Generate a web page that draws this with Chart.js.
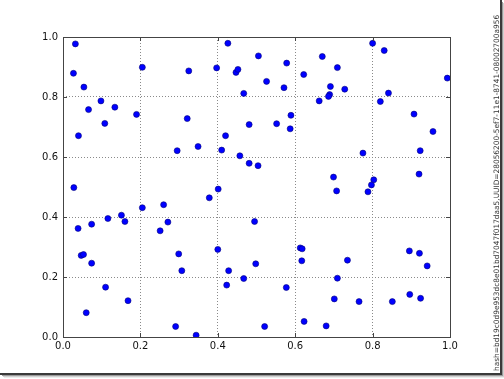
<!DOCTYPE html>
<html>
<head>
<meta charset="utf-8">
<script src="https://cdn.jsdelivr.net/npm/chart.js@4"></script>
<style>
html,body{margin:0;padding:0;background:#fff;}
canvas{display:block;}
</style>
</head>
<body>
<canvas id="c" width="504" height="379"></canvas>
<script>
// Scatter point values
const xValues = [
  0.032,0.027,0.054,0.066,0.040,0.098,0.108,0.134,0.190,0.205,
  0.325,0.321,0.349,0.295,0.397,0.426,0.447,0.452,0.467,0.420,
  0.410,0.457,0.028,0.401,0.481,0.481,0.505,0.578,0.526,0.571,
  0.552,0.589,0.587,0.504,0.670,0.709,0.622,0.691,0.728,0.689,
  0.686,0.662,0.800,0.830,0.841,0.820,0.993,0.907,0.956,0.923,
  0.775,0.920,0.699,0.803,0.797,0.707,0.788,0.039,0.074,0.116,
  0.151,0.160,0.205,0.260,0.251,0.271,0.378,0.047,0.053,0.074,
  0.110,0.168,0.060,0.299,0.307,0.400,0.428,0.423,0.467,0.291,
  0.344,0.495,0.613,0.618,0.617,0.735,0.498,0.895,0.921,0.941,
  0.709,0.577,0.701,0.765,0.851,0.896,0.924,0.623,0.680,0.521
];
const yValues = [
  0.977,0.879,0.833,0.758,0.671,0.787,0.712,0.766,0.742,0.899,
  0.887,0.728,0.635,0.621,0.897,0.979,0.882,0.892,0.812,0.671,
  0.623,0.604,0.498,0.493,0.708,0.579,0.937,0.913,0.852,0.831,
  0.711,0.739,0.694,0.571,0.935,0.898,0.875,0.835,0.826,0.808,
  0.802,0.787,0.979,0.955,0.813,0.785,0.863,0.743,0.685,0.621,
  0.613,0.543,0.533,0.524,0.507,0.487,0.484,0.362,0.376,0.395,
  0.406,0.385,0.431,0.441,0.354,0.383,0.464,0.272,0.275,0.246,
  0.166,0.121,0.081,0.277,0.221,0.292,0.221,0.173,0.195,0.035,
  0.006,0.385,0.297,0.294,0.254,0.256,0.244,0.287,0.279,0.237,
  0.196,0.165,0.127,0.118,0.118,0.142,0.129,0.052,0.037,0.035
];
const xTickLabels = ['0.0','0.2','0.4','0.6','0.8','1.0'];
const yTickLabels = ['0.0','0.2','0.4','0.6','0.8','1.0'];
const sideNote = 'hash=bd19c0d9e953dc8e01bd7047f017daa5,UUID=28056200-5ef7-11e1-8741-08002700a956';

const points = xValues.map((x, i) => ({x: x, y: yValues[i]}));

const framePlugin = {
  id: 'frame',
  afterDraw(chart) {
    const ctx = chart.ctx;
    const a = chart.chartArea;
    ctx.save();
    ctx.setLineDash([]);
    ctx.strokeStyle = '#444';
    ctx.lineWidth = 1;
    // inward ticks on all four sides
    const xs = chart.scales.x, ys = chart.scales.y;
    ctx.beginPath();
    xs.ticks.forEach((t, i) => {
      const px = Math.round(xs.getPixelForTick(i)) + 0.5;
      ctx.moveTo(px, a.bottom); ctx.lineTo(px, a.bottom - 4);
      ctx.moveTo(px, a.top); ctx.lineTo(px, a.top + 4);
    });
    ys.ticks.forEach((t, i) => {
      const py = Math.round(ys.getPixelForTick(i)) + 0.5;
      ctx.moveTo(a.left, py); ctx.lineTo(a.left + 4, py);
      ctx.moveTo(a.right, py); ctx.lineTo(a.right - 4, py);
    });
    ctx.stroke();
    ctx.strokeRect(Math.round(a.left) + 0.5, Math.round(a.top) + 0.5,
                   Math.round(a.right - a.left), Math.round(a.bottom - a.top));
    // side note text
    ctx.fillStyle = '#333';
    ctx.font = '7.4px "DejaVu Sans"';
    ctx.textAlign = 'left';
    ctx.textBaseline = 'alphabetic';
    ctx.translate(498.5, 371);
    ctx.rotate(-Math.PI / 2);
    ctx.fillText(sideNote, 0, 0);
    ctx.restore();
    // outer picture border with shadow
    ctx.save();
    ctx.fillStyle = '#3a3a3a';
    ctx.fillRect(500, 0, 2, 375);
    ctx.fillRect(0, 373, 502, 2);
    ctx.fillStyle = '#9a9a9a';
    ctx.fillRect(502, 2, 1, 374);
    ctx.fillRect(2, 375, 501, 1);
    ctx.fillStyle = '#d0d0d0';
    ctx.fillRect(503, 3, 1, 374);
    ctx.fillRect(3, 376, 501, 1);
    ctx.fillStyle = '#ececec';
    ctx.fillRect(4, 377, 500, 1);
    ctx.restore();
  }
};

new Chart(document.getElementById('c'), {
  type: 'scatter',
  data: {
    datasets: [{
      data: points,
      backgroundColor: '#0000ff',
      borderColor: '#00007a',
      borderWidth: 0.6,
      pointRadius: 3,
      pointHoverRadius: 3
    }]
  },
  options: {
    responsive: false,
    devicePixelRatio: 1,
    animation: false,
    events: [],
    layout: { padding: { left: 0, right: 54, top: 37, bottom: 0 } },
    plugins: { legend: { display: false }, tooltip: { enabled: false } },
    scales: {
      x: {
        type: 'linear', min: 0, max: 1,
        afterFit: s => { s.height = 42; },
        ticks: {
          stepSize: 0.2,
          callback: (v, i) => xTickLabels[i],
          font: { family: 'DejaVu Sans', size: 10 },
          color: '#111',
          padding: 3,
          maxRotation: 0,
          autoSkip: false
        },
        grid: { color: '#8a8a8a', lineWidth: 1, drawTicks: false },
        border: { display: false, dash: [1, 2] }
      },
      y: {
        type: 'linear', min: 0, max: 1,
        afterFit: s => { s.width = 63; },
        ticks: {
          stepSize: 0.2,
          callback: (v, i) => yTickLabels[i],
          font: { family: 'DejaVu Sans', size: 10 },
          color: '#111',
          padding: 5,
          autoSkip: false
        },
        grid: { color: '#8a8a8a', lineWidth: 1, drawTicks: false },
        border: { display: false, dash: [1, 2] }
      }
    }
  },
  plugins: [framePlugin]
});
</script>
</body>
</html>
